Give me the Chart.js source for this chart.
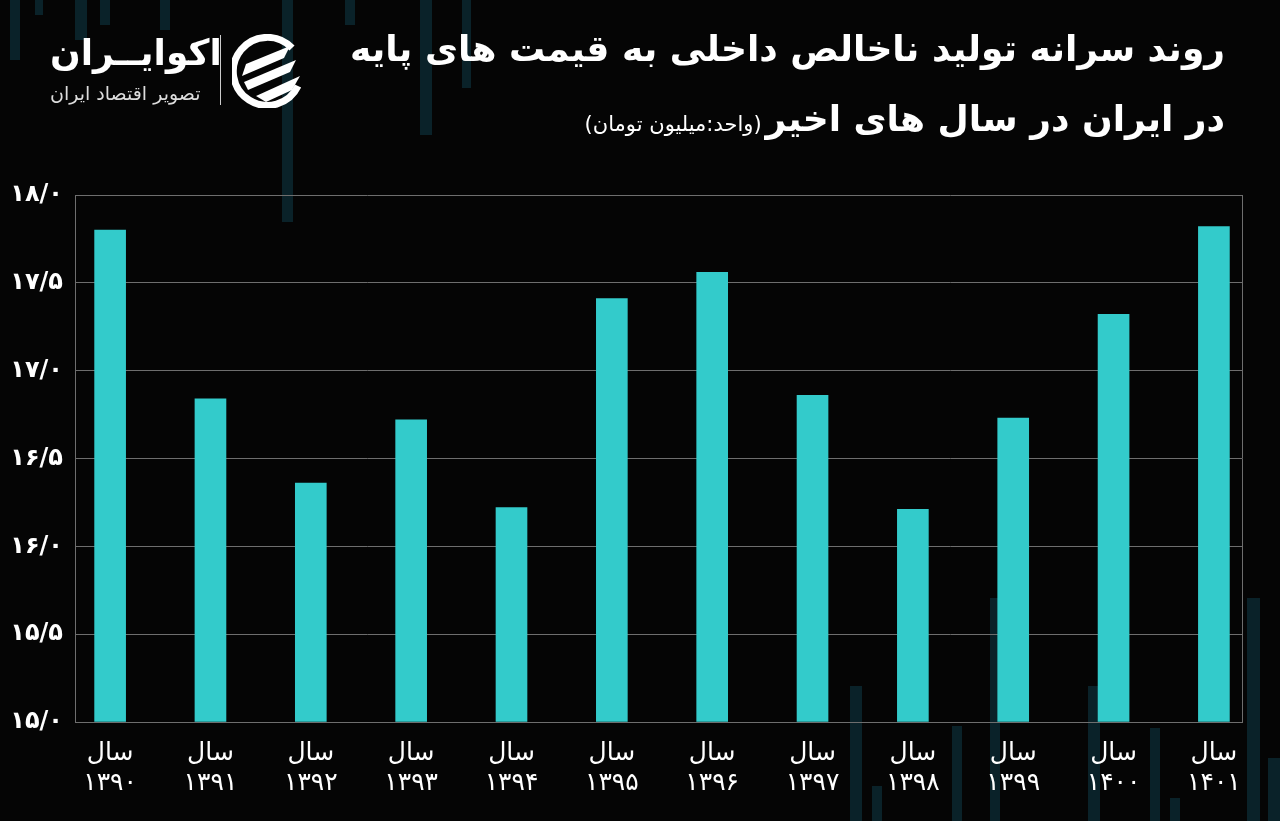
<!DOCTYPE html>
<html>
<head>
<meta charset="utf-8">
<script src="https://cdn.jsdelivr.net/npm/chart.js@4.4.0/dist/chart.umd.min.js"></script>
<style>
  body { margin: 0; background: #050505; }
  #wrap { position: relative; width: 1280px; height: 821px; overflow: hidden; background: #050505; font-family: "DejaVu Sans", sans-serif; }
  .deco { position: absolute; background: #0a2229; }
  #chart { position: absolute; left: 0; top: 0; }
  .title { position: absolute; right: 55px; color: #fff; direction: rtl; white-space: nowrap; font-weight: bold; }
  #t1 { top: 28px; font-size: 36px; }
  #t2 { top: 98px; font-size: 36px; }
  #t2 span { font-size: 21px; font-weight: normal; margin-right: 4px; }
  #logo1 { position: absolute; left: 50px; top: 32px; color: #fff; font-size: 36px; font-weight: bold; direction: rtl; }
  #logo2 { position: absolute; left: 50px; top: 82px; color: #ddd; font-size: 19px; direction: rtl; }
  #divider { position: absolute; left: 220px; top: 35px; width: 1px; height: 70px; background: #ccc; }
  #icon { position: absolute; left: 232px; top: 34px; }
</style>
</head>
<body>
<div id="wrap">
  <div class="deco" style="left:10px;top:0;width:10px;height:60px"></div>
  <div class="deco" style="left:35px;top:0;width:8px;height:15px"></div>
  <div class="deco" style="left:75px;top:0;width:12px;height:40px"></div>
  <div class="deco" style="left:100px;top:0;width:10px;height:25px"></div>
  <div class="deco" style="left:160px;top:0;width:10px;height:30px"></div>
  <div class="deco" style="left:282px;top:0;width:11px;height:222px"></div>
  <div class="deco" style="left:345px;top:0;width:10px;height:25px"></div>
  <div class="deco" style="left:420px;top:0;width:12px;height:135px"></div>
  <div class="deco" style="left:462px;top:0;width:9px;height:88px"></div>
  <div class="deco" style="left:850px;top:686px;width:12px;height:135px"></div>
  <div class="deco" style="left:872px;top:786px;width:10px;height:35px"></div>
  <div class="deco" style="left:952px;top:726px;width:10px;height:95px"></div>
  <div class="deco" style="left:990px;top:598px;width:10px;height:223px"></div>
  <div class="deco" style="left:1088px;top:686px;width:12px;height:135px"></div>
  <div class="deco" style="left:1150px;top:728px;width:10px;height:93px"></div>
  <div class="deco" style="left:1170px;top:798px;width:10px;height:23px"></div>
  <div class="deco" style="left:1247px;top:598px;width:13px;height:223px"></div>
  <div class="deco" style="left:1268px;top:758px;width:12px;height:63px"></div>

  <canvas id="chart" width="1280" height="821"></canvas>

  <div id="logo1">اکوایــران</div>
  <div id="logo2">تصویر اقتصاد ایران</div>
  <div id="divider"></div>
  <svg id="icon" width="74" height="74" viewBox="0 0 74 74">
    <path d="M60 14 A34 34 0 1 0 66 52" fill="none" stroke="#fff" stroke-width="7"/>
    <path d="M14 30 L58 12 L52 24 L10 42 Z" fill="#fff"/>
    <path d="M12 48 L64 26 L58 38 L16 56 Z" fill="#fff"/>
    <path d="M24 62 L68 42 L60 56 L34 68 Z" fill="#fff"/>
  </svg>

  <div class="title" id="t1">روند سرانه تولید ناخالص داخلی به قیمت های پایه</div>
  <div class="title" id="t2">در ایران در سال های اخیر<span>(واحد:میلیون تومان)</span></div>
</div>
<script>
// سال ها و مقادیر (میلیون تومان)
const years = ['1390', '1391', '1392', '1393', '1394', '1395', '1396', '1397', '1398', '1399', '1400', '1401'];
const values = [17.80, 16.84, 16.36, 16.72, 16.22, 17.41, 17.56, 16.86, 16.21, 16.73, 17.32, 17.82];
const yTicks = [15, 15.5, 16, 16.5, 17, 17.5, 18];

const faDigits = '۰۱۲۳۴۵۶۷۸۹';
function toFa(s) {
    return String(s).replace(/[0-9]/g, d => faDigits[d]).replace('.', '/');
}

const gridColor = '#6e6e6e';

// right edge line of the plot box
const boxRight = {
    id: 'boxRight',
    afterDraw(chart) {
        const a = chart.chartArea, ctx = chart.ctx;
        ctx.save();
        ctx.strokeStyle = gridColor;
        ctx.lineWidth = 1;
        ctx.beginPath();
        ctx.moveTo(a.right + 0.5, a.top);
        ctx.lineTo(a.right + 0.5, a.bottom);
        ctx.stroke();
        ctx.restore();
    }
};

new Chart(document.getElementById('chart'), {
    type: 'bar',
    data: {
        datasets: [{
            data: values.map((v, i) => ({x: i, y: v})),
            backgroundColor: '#33CBCB',
            barThickness: 31,
            base: 15
        }]
    },
    options: {
        responsive: false,
        animation: false,
        layout: { padding: { top: 195, right: 38, left: 0, bottom: 0 } },
        plugins: { legend: { display: false }, tooltip: { enabled: false } },
        scales: {
            x: {
                type: 'linear',
                offset: false,
                min: -0.35,
                max: 11.28,
                afterBuildTicks: scale => { scale.ticks = years.map((y, i) => ({value: i})); },
                afterFit: scale => { scale.height = 99; },
                grid: { display: false, offset: false },
                border: { display: true, color: gridColor },
                ticks: {
                    color: '#fff',
                    padding: 8,
                    maxRotation: 0,
                    autoSkip: false,
                    font: { family: 'DejaVu Sans', size: 25, lineHeight: 1.2 },
                    callback: v => ['سال', toFa(years[Math.round(v)])]
                }
            },
            y: {
                min: 15,
                max: 18,
                afterBuildTicks: scale => { scale.ticks = yTicks.map(v => ({value: v})); },
                afterFit: scale => { scale.width = 75; },
                grid: { color: gridColor, drawTicks: false },
                border: { display: true, color: gridColor },
                ticks: {
                    color: '#fff',
                    padding: 12,
                    font: { family: 'DejaVu Sans', size: 24, weight: 'bold' },
                    callback: v => toFa(v.toFixed(1))
                }
            }
        }
    },
    plugins: [boxRight]
});
</script>
</body>
</html>
